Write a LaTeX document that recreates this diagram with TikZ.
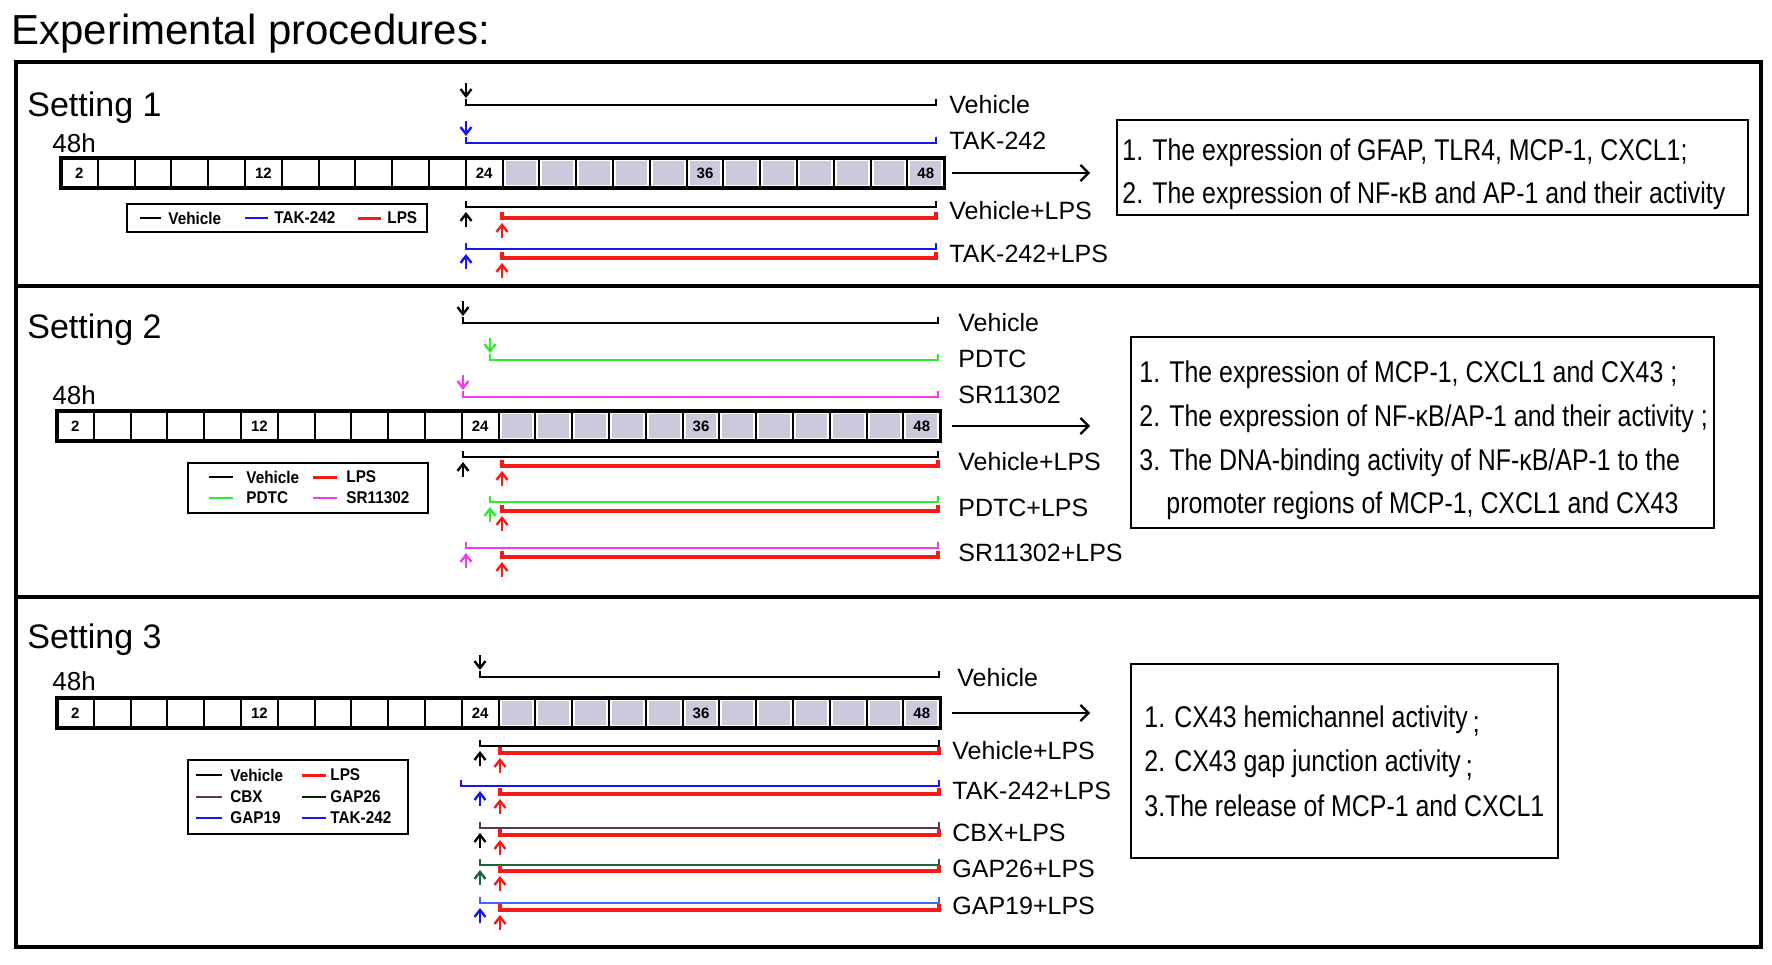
\documentclass[tikz,border=0pt]{standalone}
\usepackage{fontspec}
\setmainfont{Liberation Sans}
\newfontfamily\narrowfont[FakeStretch=0.83]{Liberation Sans}
\newfontfamily\legfont[FakeStretch=0.9]{Liberation Sans}
\usepackage{tikz}
\usepackage{xcolor}
\usetikzlibrary{arrows.meta}

\definecolor{takblue}{RGB}{20,20,245}
\definecolor{lpsred}{RGB}{250,25,25}
\definecolor{pdtcgreen}{RGB}{45,235,45}
\definecolor{srmag}{RGB}{240,60,240}
\definecolor{cbxcol}{RGB}{95,55,75}
\definecolor{gapgreen}{RGB}{25,100,60}
\definecolor{gapblue}{RGB}{70,100,255}
\definecolor{barfill}{RGB}{202,202,220}

\tikzset{
  titletext/.style={font=\fontsize{21}{25}\selectfont,anchor=base west,inner sep=0},
  settext/.style={font=\fontsize{17}{20}\selectfont,anchor=base west,inner sep=0},
  htext/.style={font=\fontsize{13}{15}\selectfont,anchor=base west,inner sep=0},
  celltext/.style={font=\bfseries\fontsize{7.5}{9}\selectfont,inner sep=0},
  trtext/.style={font=\fontsize{12.5}{15}\selectfont,anchor=base west,inner sep=0},
  restext/.style={font=\narrowfont\fontsize{15}{18}\selectfont,anchor=base west,inner sep=0},
  legtext/.style={font=\legfont\bfseries\fontsize{8.5}{10}\selectfont,anchor=west,inner sep=0},
  frame/.style={line width=1.6pt},
  boxline/.style={line width=1pt},
  legline/.style={line width=1pt},
  tline/.style={line width=1pt},
  lps/.style={lpsred,line width=1.7pt},
  smallarr/.style={-{Straight Barb[length=3.5pt,width=5.5pt]},line width=1.2pt},
  resarrow/.style={-{Straight Barb[length=4pt,width=8pt]},line width=1.1pt}
}

% time bar: name, left x, top y
\newcommand{\timebar}[3]{%
  \foreach \i in {1,...,24}{
    \pgfmathsetmacro{\xa}{#2+(\i-1)*36.8}
    \ifnum\i>12 \fill[barfill](\xa+3,#3+3)rectangle(\xa+33.8,#3+27);\fi
    \draw[line width=1pt](\xa,#3)rectangle(\xa+36.8,#3+30);
  }
  \draw[line width=1.7pt](#2,#3)rectangle(#2+883.2,#3+30);
  \foreach \i/\t in {1/2,6/12,12/24,18/36,24/48}
    \node[celltext](#1c\t) at (#2+\i*36.8-18.4,#3+15){\t};
  \coordinate(#1e) at (952,#3+15);
  \coordinate(#1f) at (1090,#3+15);
  \draw[resarrow](#1e)--(#1f);
}
\newcommand{\treat}[4]{\draw[#1](#2,#3-6)--(#2,#3)--(#4,#3)--(#4,#3-6);}
\newcommand{\arrdn}[3]{\draw[smallarr,#1](#2,#3-22)--(#2,#3-7);}
\newcommand{\arrup}[3]{\draw[smallarr,#1](#2,#3+20)--(#2,#3+5);}

\begin{document}
\begin{tikzpicture}[x=0.5pt,y=-0.5pt]
\useasboundingbox(0,0)rectangle(1772,964);
\node[titletext](title) at (11,44){Experimental procedures:};
\draw[frame](16,62)rectangle(1761,947);
\draw[frame](16,286)--(1761,286) (16,597)--(1761,597);

% Setting 1
\node[settext](set1) at (27,116){Setting 1};
\node[htext](h1) at (52,152){48h};
\timebar{bar1}{61}{158}
\treat{tline}{466}{105}{936}\arrdn{black}{466}{105}
\treat{tline,takblue}{466}{143}{936}\arrdn{takblue}{466}{143}
\treat{tline}{466}{207}{936}\arrup{black}{466}{207}
\treat{lps}{502}{218}{936}\arrup{lpsred}{502}{218}
\treat{tline,takblue}{466}{249}{936}\arrup{takblue}{466}{249}
\treat{lps}{502}{258}{936}\arrup{lpsred}{502}{258}
\node[trtext](t1a) at (949,113){Vehicle};
\node[trtext](t1b) at (949,149){TAK-242};
\node[trtext](t1c) at (949,219){Vehicle+LPS};
\node[trtext](t1d) at (949,262){TAK-242+LPS};
\draw[boxline](127,204)rectangle(427,232);
\draw[legline](140,218)--(161,218);
\node[legtext](l1a) at (168,218){Vehicle};
\draw[legline,takblue](245,218)--(268,218);
\node[legtext](l1b) at (274,218){TAK-242};
\draw[legline,lpsred,line width=1.5pt](358,218)--(381,218);
\node[legtext](l1c) at (387,218){LPS};
\draw[boxline](1117,120)rectangle(1748,215);
\node[restext](r1a) at (1122,160){1. The expression of GFAP, TLR4, MCP-1, CXCL1;};
\node[restext](r1b) at (1122,203){2. The expression of NF-κB and AP-1 and their activity};

% Setting 2
\node[settext](set2) at (27,338){Setting 2};
\node[htext](h2) at (52,404){48h};
\timebar{bar2}{57}{411}
\treat{tline}{463}{323}{938}\arrdn{black}{463}{323}
\treat{tline,pdtcgreen}{490}{360}{938}\arrdn{pdtcgreen}{490}{360}
\treat{tline,srmag}{463}{397}{938}\arrdn{srmag}{463}{397}
\treat{tline}{463}{457}{938}\arrup{black}{463}{457}
\treat{lps}{502}{466}{938}\arrup{lpsred}{502}{466}
\treat{tline,pdtcgreen}{490}{502}{938}\arrup{pdtcgreen}{490}{502}
\treat{lps}{502}{511}{938}\arrup{lpsred}{502}{511}
\treat{tline,srmag}{466}{548}{938}\arrup{srmag}{466}{548}
\treat{lps}{502}{557}{938}\arrup{lpsred}{502}{557}
\node[trtext](t2a) at (958,331){Vehicle};
\node[trtext](t2b) at (958,367){PDTC};
\node[trtext](t2c) at (958,403){SR11302};
\node[trtext](t2d) at (958,470){Vehicle+LPS};
\node[trtext](t2e) at (958,516){PDTC+LPS};
\node[trtext](t2f) at (958,561){SR11302+LPS};
\draw[boxline](188,463)rectangle(428,513);
\draw[legline](209,477)--(233,477);
\node[legtext](l2a) at (246,477){Vehicle};
\draw[legline,lpsred,line width=1.5pt](313,477)--(337,477);
\node[legtext](l2b) at (346,477){LPS};
\draw[legline,pdtcgreen](209,498)--(233,498);
\node[legtext](l2c) at (246,498){PDTC};
\draw[legline,srmag](313,498)--(337,498);
\node[legtext](l2d) at (346,498){SR11302};
\draw[boxline](1131,337)rectangle(1714,528);
\node[restext](r2a) at (1139,382){1. The expression of MCP-1, CXCL1 and CX43 ;};
\node[restext](r2b) at (1139,426){2. The expression of NF-κB/AP-1 and their activity ;};
\node[restext](r2c) at (1139,470){3. The DNA-binding activity of NF-κB/AP-1 to the};
\node[restext](r2d) at (1166,513){promoter regions of MCP-1, CXCL1 and CX43};

% Setting 3
\node[settext](set3) at (27,648){Setting 3};
\node[htext](h3) at (52,690){48h};
\timebar{bar3}{57}{698}
\treat{tline}{480}{677}{939}\arrdn{black}{480}{677}
\treat{tline}{480}{746}{939}\arrup{black}{480}{746}
\treat{lps}{500}{753}{939}\arrup{lpsred}{500}{753}
\treat{tline,takblue}{461}{786}{939}\arrup{takblue}{480}{786}
\treat{lps}{500}{794}{939}\arrup{lpsred}{500}{794}
\treat{tline,cbxcol}{480}{828}{939}\arrup{black}{480}{828}
\treat{lps}{500}{835}{939}\arrup{lpsred}{500}{835}
\treat{tline,gapgreen}{480}{865}{939}\arrup{gapgreen}{480}{865}
\treat{lps}{500}{871}{939}\arrup{lpsred}{500}{871}
\treat{tline,gapblue}{480}{903}{939}\arrup{takblue}{480}{903}
\treat{lps}{500}{910}{939}\arrup{lpsred}{500}{910}
\node[trtext](t3a) at (957,686){Vehicle};
\node[trtext](t3b) at (952,759){Vehicle+LPS};
\node[trtext](t3c) at (952,799){TAK-242+LPS};
\node[trtext](t3d) at (952,841){CBX+LPS};
\node[trtext](t3e) at (952,877){GAP26+LPS};
\node[trtext](t3f) at (952,914){GAP19+LPS};
\draw[boxline](188,760)rectangle(408,834);
\draw[legline](196,775)--(222,775);
\node[legtext](l3a) at (230,775){Vehicle};
\draw[legline,lpsred,line width=1.5pt](302,775)--(326,775);
\node[legtext](l3b) at (330,775){LPS};
\draw[legline,cbxcol](196,797)--(222,797);
\node[legtext](l3c) at (230,797){CBX};
\draw[legline,black!85!green](302,797)--(326,797);
\node[legtext](l3d) at (330,797){GAP26};
\draw[legline,takblue](196,818)--(222,818);
\node[legtext](l3e) at (230,818){GAP19};
\draw[legline,takblue](302,818)--(326,818);
\node[legtext](l3f) at (330,818){TAK-242};
\draw[boxline](1131,664)rectangle(1558,858);
\node[restext](r3a) at (1144,727){1. CX43 hemichannel activity\,\raisebox{-2.5pt}{;}};
\node[restext](r3b) at (1144,771){2. CX43 gap junction activity\,\raisebox{-2.5pt}{;}};
\node[restext](r3c) at (1144,816){3.The release of MCP-1 and CXCL1};
\end{tikzpicture}
\end{document}
